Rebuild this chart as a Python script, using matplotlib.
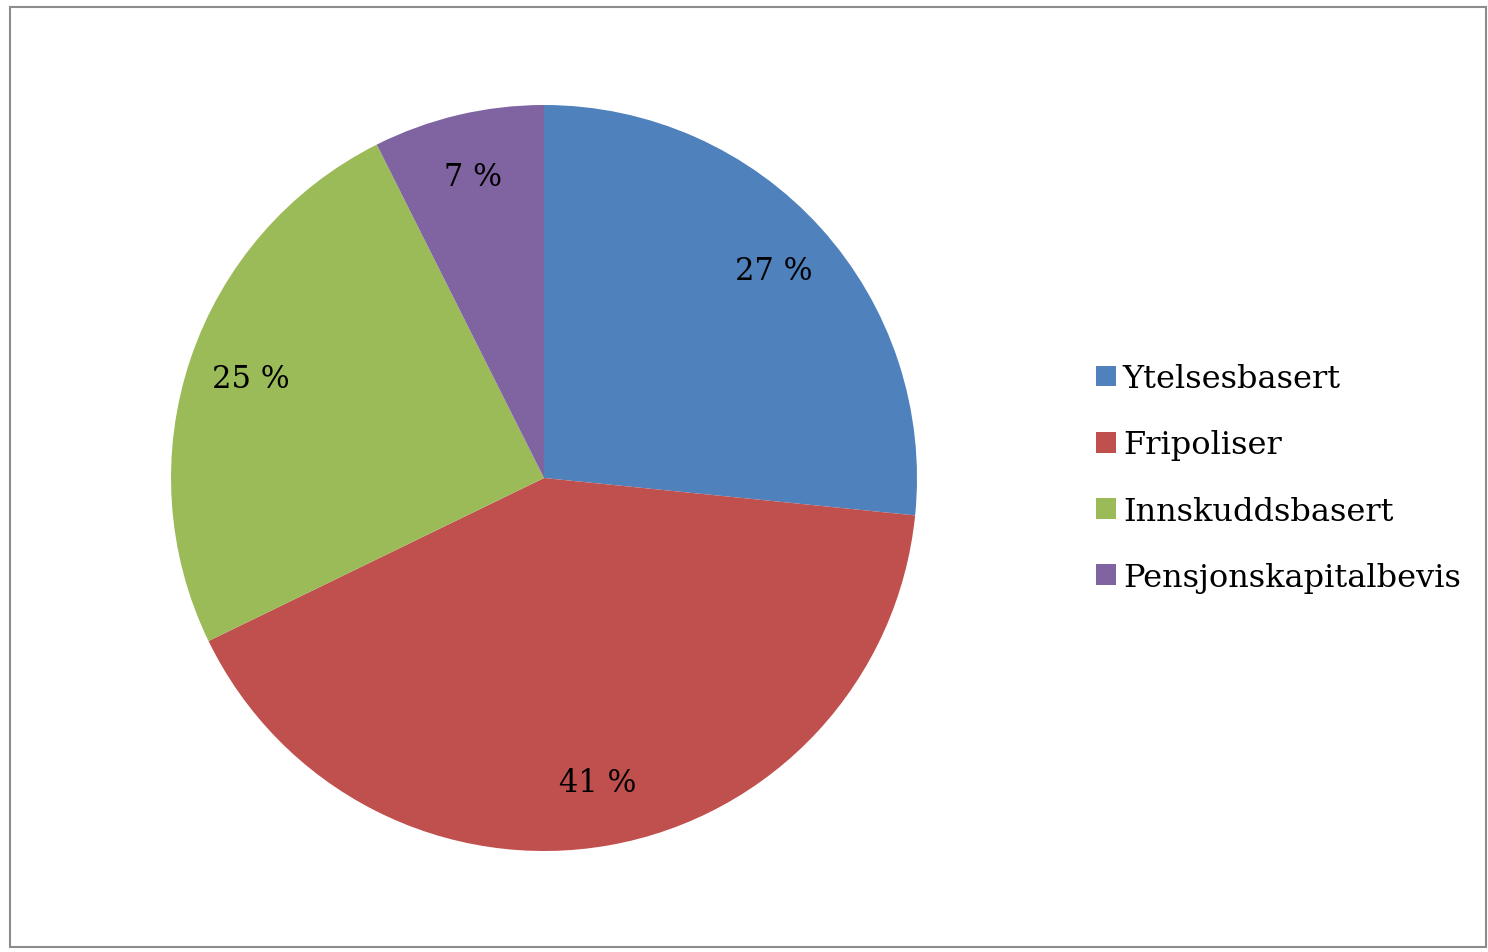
import matplotlib
matplotlib.use("Agg")
import matplotlib.pyplot as plt
from matplotlib.patches import Rectangle, Patch

categories = ["Ytelsesbasert", "Fripoliser", "Innskuddsbasert", "Pensjonskapitalbevis"]
values = [26.6, 41.2, 24.8, 7.4]
colors = ["#4F81BD", "#C0504D", "#9BBB59", "#8064A2"]

plt.rcParams['font.family'] = ['DejaVu Serif']

W, H = 1488, 953
fig = plt.figure(figsize=(W/100, H/100), dpi=100)

# figure border
fig.add_artist(Rectangle((10/W, 1-948/H), (1486-10)/W, (948-8)/H, transform=fig.transFigure,
                         fill=False, edgecolor="#8c8c8c", linewidth=1.5))

cx, cy, r = 544, 479, 373
ax = fig.add_axes([(cx-r)/W, (H-cy-r)/H, 2*r/W, 2*r/H])
wedges, texts, autotexts = ax.pie(values, colors=colors, startangle=90, counterclock=False,
                                  autopct=lambda p: f"{p:.0f} %", pctdistance=0.83,
                                  textprops=dict(fontsize=22, color="black"),
                                  wedgeprops=dict(linewidth=0))
ax.set_xlim(-1, 1)
ax.set_ylim(-1, 1)
ax.set_aspect("equal")

handles = [Patch(facecolor=c, edgecolor="none") for c in colors]
fig.legend(handles, categories, loc="center left", bbox_to_anchor=(1096/W, 1-479/H),
           frameon=False, fontsize=23, handlelength=0.62, handleheight=0.62,
           handletextpad=0.22, labelspacing=1.1, borderpad=0, borderaxespad=0)

fig.savefig("out.png", dpi=100)
